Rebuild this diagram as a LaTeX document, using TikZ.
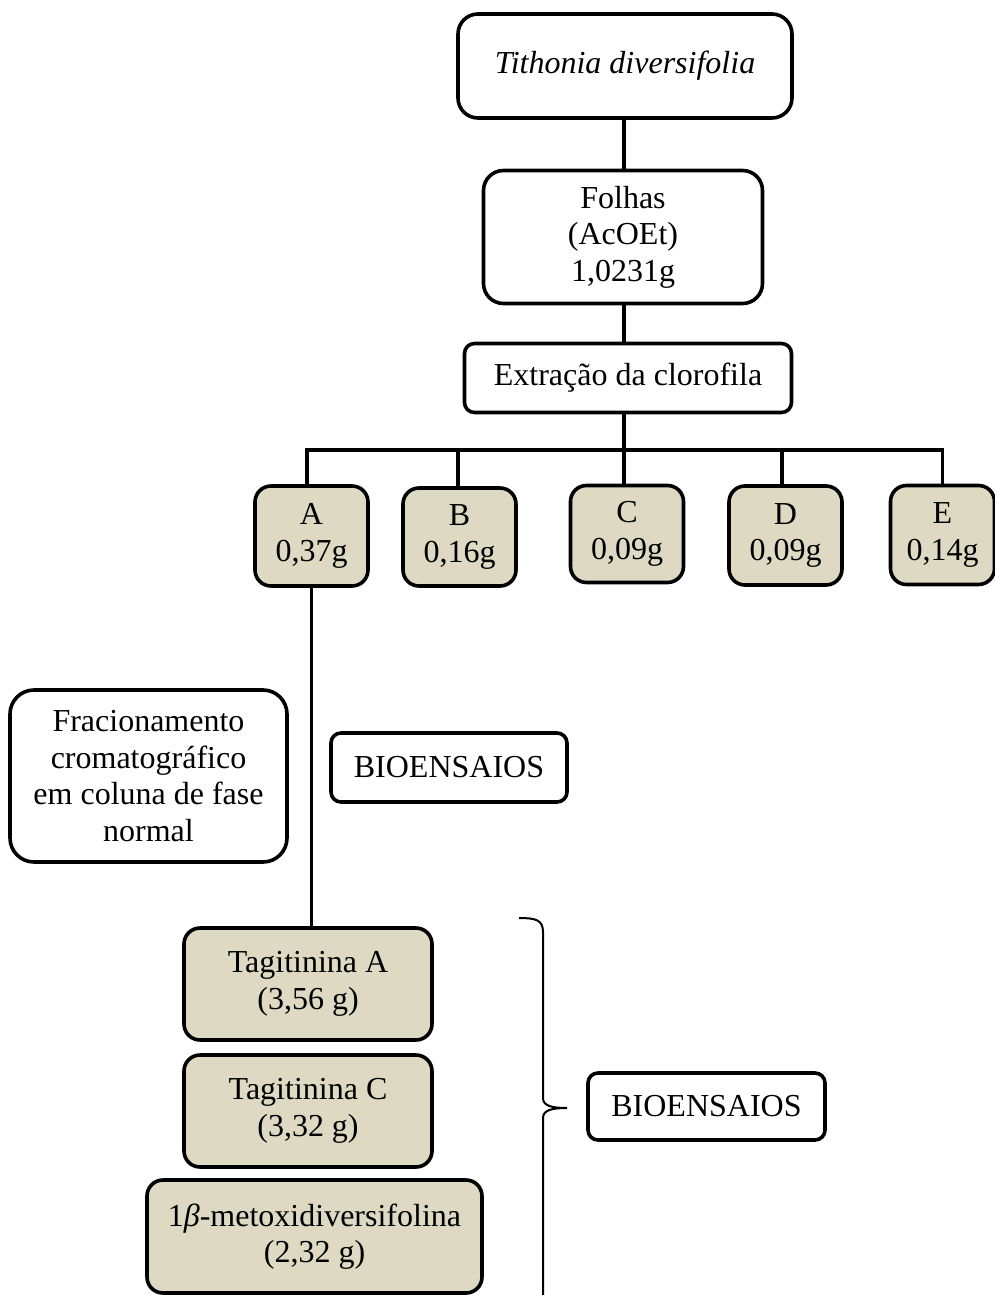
\documentclass[tikz,border=0pt]{standalone}
\usepackage{fontspec}
\setmainfont{Liberation Serif}
\definecolor{fracfill}{RGB}{221,217,195}

\begin{document}
\begin{tikzpicture}[x=0.5pt, y=-0.5pt,
    nodeW/.style={rectangle, rounded corners=10pt, draw=black, line width=1.8pt, fill=white, inner sep=0pt, align=center, font=\fontsize{16}{18.3}\selectfont},
    nodeF/.style={nodeW, fill=fracfill, rounded corners=8pt},
    nodeS/.style={nodeW, rounded corners=5pt},
    link/.style={draw=black, line width=1.7pt}]

    \useasboundingbox (0,0) rectangle (995,1295);

    % Planta e extrato
    \node[nodeW] (planta) at (625,66) [minimum width=167pt, minimum height=52pt] {\textit{Tithonia diversifolia}};
    \node[nodeW] (folhas) at (623,237) [minimum width=139.5pt, minimum height=66.5pt] {Folhas\\(AcOEt)\\1,0231g};
    \node[nodeS] (extr) at (628,378) [minimum width=163.5pt, minimum height=34.5pt] {Extração da clorofila};

    % Frações
    \node[nodeF] (fA) at (311.5,536) [minimum width=56.5pt, minimum height=50pt] {A\\0,37g};
    \node[nodeF] (fB) at (459.5,537) [minimum width=56.5pt, minimum height=49pt] {B\\0,16g};
    \node[nodeF] (fC) at (627,534) [minimum width=56.5pt, minimum height=48.5pt] {C\\0,09g};
    \node[nodeF] (fD) at (785.5,535.5) [minimum width=56.5pt, minimum height=49.5pt] {D\\0,09g};
    \node[nodeF] (fE) at (942.5,535) [minimum width=52pt, minimum height=49.5pt] {E\\0,14g};

    % Fracionamento
    \node[nodeW, rounded corners=12pt] (fracio) at (148.5,776) [minimum width=138.5pt, minimum height=86pt] {Fracionamento\\cromatográfico\\em coluna de fase\\normal};
    \node[nodeS] (bio1) at (449,767.5) [minimum width=118pt, minimum height=34.5pt] {BIOENSAIOS};

    % Substâncias isoladas
    \node[nodeF] (tagA) at (308,984) [minimum width=124pt, minimum height=56pt] {Tagitinina A\\(3,56 g)};
    \node[nodeF] (tagC) at (308,1111) [minimum width=124pt, minimum height=56pt] {Tagitinina C\\(3,32 g)};
    \node[nodeF] (metox) at (314.5,1236.5) [minimum width=167.5pt, minimum height=56.5pt] {1{\itshape β}-metoxidiversifolina\\(2,32 g)};
    \node[nodeS] (bio2) at (706.5,1106.5) [minimum width=118.5pt, minimum height=33.5pt] {BIOENSAIOS};

    % Ligações
    \coordinate (bus) at (624,450);
    \draw[link] (planta.south -| bus) -- (folhas.north -| bus);
    \draw[link] (folhas.south -| bus) -- (extr.north -| bus);
    \draw[link] (extr.south -| bus) -- (bus);
    \draw[link] (fA.north -| 307,0) |- (bus) -| (fE.north);
    \draw[link] (fB.north -| 458,0) -- (458,450);
    \draw[link] (fC.north -| 624,0) -- (624,450);
    \draw[link] (fD.north -| 782,0) -- (782,450);
    \draw[link] (fA.south) -- (fA.south |- tagA.north);

    % Chave
    \coordinate (ponta) at (567,1108);
    \draw[line width=1pt] (519,918) .. controls (536,918) and (543,920) .. (543,932)
        -- (543,1098) .. controls (543,1106) and (552,1108) .. (ponta)
        .. controls (552,1108) and (543,1110) .. (543,1118) -- (543,1300);
\end{tikzpicture}
\end{document}
